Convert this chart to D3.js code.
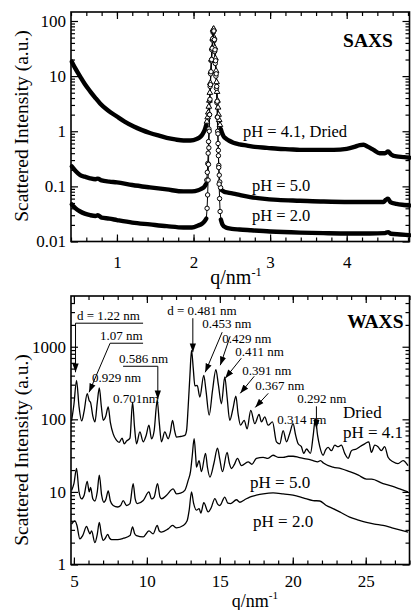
<!DOCTYPE html>
<html>
<head>
<meta charset="utf-8">
<script src="https://cdn.jsdelivr.net/npm/d3@7"></script>
<style>
body { margin: 0; background: #fff; }
text { font-family: "Liberation Serif", "Times New Roman", serif; fill: #000; }
</style>
</head>
<body>
<div class="chart"></div>
<script>
// SAXS / WAXS of dried and wet samples

// SAXS, [q (nm^-1), intensity]
var saxsDried = [
  [0.41, 18.3], [0.46, 13.5], [0.52, 9.8], [0.58, 7.2], [0.65, 5.3], [0.72, 4.0], [0.78, 3.2],
  [0.88, 2.4], [1.0, 1.85], [1.1, 1.5], [1.22, 1.22], [1.32, 1.06], [1.43, 0.93], [1.55, 0.83],
  [1.65, 0.76], [1.76, 0.71], [1.87, 0.68], [1.96, 0.68], [2.04, 0.72], [2.07, 0.76], [2.10, 0.82],
  [2.13, 0.95], [2.15, 1.1], [2.165, 1.3], [2.175, 1.5], [2.185, 1.8], [2.193, 2.2], [2.2, 2.8],
  [2.207, 3.6], [2.213, 5], [2.219, 7.5], [2.226, 12], [2.234, 20], [2.242, 32], [2.25, 48],
  [2.257, 70], [2.263, 72], [2.27, 50], [2.278, 33], [2.286, 21], [2.294, 12.5], [2.301, 7.8],
  [2.307, 5.2], [2.313, 3.6], [2.32, 2.7], [2.327, 2.0], [2.335, 1.6], [2.345, 1.3], [2.355, 1.1],
  [2.37, 0.95], [2.39, 0.82], [2.42, 0.74], [2.46, 0.68], [2.52, 0.62], [2.6, 0.58], [2.7, 0.55],
  [2.8, 0.52], [2.96, 0.50], [3.1, 0.48], [3.25, 0.47], [3.39, 0.46], [3.6, 0.46], [3.83, 0.46],
  [4.0, 0.48], [4.1, 0.52], [4.17, 0.56], [4.22, 0.57], [4.28, 0.52], [4.35, 0.46], [4.43, 0.40],
  [4.5, 0.40], [4.54, 0.43], [4.58, 0.38], [4.65, 0.35], [4.75, 0.34], [4.82, 0.33]
];
var saxsPH5 = [
  [0.41, 0.23], [0.46, 0.19], [0.52, 0.16], [0.58, 0.15], [0.65, 0.14], [0.72, 0.135], [0.75, 0.138],
  [0.8, 0.128], [0.9, 0.122], [1.0, 0.118], [1.2, 0.106], [1.43, 0.096], [1.65, 0.088], [1.87, 0.081],
  [1.98, 0.081], [2.06, 0.085], [2.1, 0.09], [2.14, 0.098], [2.163, 0.11],
  [2.173, 0.13], [2.18, 0.18], [2.186, 0.26], [2.191, 0.4], [2.196, 0.65], [2.201, 1.1], [2.206, 2.0],
  [2.211, 3.6], [2.217, 6.5], [2.224, 11], [2.232, 19], [2.24, 30], [2.248, 45], [2.255, 62],
  [2.261, 64], [2.268, 44], [2.276, 28], [2.284, 17], [2.292, 10], [2.299, 6], [2.305, 3.3],
  [2.31, 1.8], [2.315, 1.0], [2.32, 0.6], [2.325, 0.36], [2.33, 0.24], [2.336, 0.16], [2.343, 0.12],
  [2.353, 0.095], [2.37, 0.085], [2.4, 0.08], [2.45, 0.077], [2.52, 0.074], [2.6, 0.07], [2.74, 0.064],
  [2.9, 0.06], [3.1, 0.057], [3.39, 0.055], [3.7, 0.053], [4.04, 0.052], [4.3, 0.052], [4.48, 0.052],
  [4.51, 0.057], [4.54, 0.06], [4.57, 0.052], [4.65, 0.048], [4.75, 0.046], [4.82, 0.045]
];
var saxsPH2 = [
  [0.41, 0.047], [0.46, 0.04], [0.52, 0.035], [0.58, 0.032], [0.65, 0.03], [0.72, 0.029], [0.75, 0.03],
  [0.8, 0.027], [0.9, 0.026], [1.0, 0.0245], [1.2, 0.022], [1.43, 0.0204], [1.65, 0.019], [1.87, 0.018],
  [1.98, 0.018], [2.06, 0.0195], [2.11, 0.021], [2.14, 0.023], [2.167, 0.026],
  [2.177, 0.04], [2.184, 0.07], [2.19, 0.13], [2.195, 0.25], [2.2, 0.5], [2.205, 1.0], [2.21, 2.0],
  [2.215, 3.8], [2.221, 7], [2.228, 12], [2.236, 20], [2.244, 32], [2.252, 48], [2.259, 65],
  [2.265, 66], [2.272, 46], [2.28, 30], [2.288, 19], [2.296, 11], [2.303, 6.5], [2.309, 3.5],
  [2.314, 1.8], [2.319, 0.9], [2.324, 0.45], [2.329, 0.22], [2.334, 0.11], [2.34, 0.06], [2.347, 0.035],
  [2.357, 0.025], [2.38, 0.02], [2.42, 0.018], [2.5, 0.017], [2.6, 0.0165], [2.74, 0.016], [3.0, 0.0152],
  [3.39, 0.0145], [3.7, 0.0142], [4.04, 0.014], [4.3, 0.014], [4.5, 0.0142], [4.54, 0.0148],
  [4.58, 0.0138], [4.7, 0.0134], [4.82, 0.013]
];

// WAXS, [q (nm^-1), intensity]
var waxsDried = [
  [4.84, 95], [5.0, 160], [5.18, 345], [5.35, 150], [5.53, 95], [5.7, 130], [5.91, 226], [6.05, 180],
  [6.14, 170], [6.3, 110], [6.44, 92], [6.6, 170], [6.74, 271], [6.88, 150], [7.01, 97], [7.18, 110],
  [7.35, 148], [7.5, 90], [7.69, 63], [7.9, 52], [8.1, 48], [8.3, 55], [8.45, 46], [8.6, 50],
  [8.84, 55], [9.02, 173], [9.15, 80], [9.29, 46], [9.52, 67], [9.75, 49], [9.95, 60], [10.14, 83],
  [10.32, 54], [10.5, 70], [10.71, 182], [10.85, 90], [11.0, 49], [11.23, 67], [11.46, 54], [11.6, 65],
  [11.76, 97], [11.9, 70], [12.03, 57], [12.3, 58], [12.6, 60], [12.72, 70], [12.83, 148], [12.95, 400],
  [13.06, 890], [13.18, 500], [13.29, 290], [13.45, 294], [13.63, 203], [13.9, 404], [14.05, 250],
  [14.27, 114], [14.5, 250], [14.73, 484], [14.9, 300], [15.11, 164], [15.34, 384], [15.5, 200],
  [15.68, 97], [15.9, 140], [16.1, 208], [16.25, 120], [16.42, 83], [16.67, 97], [16.87, 74],
  [17.12, 133], [17.4, 87], [17.69, 117], [17.85, 92], [18.08, 108], [18.31, 83], [18.61, 92],
  [18.88, 49], [19.11, 46], [19.34, 70], [19.57, 49], [19.8, 65], [20.02, 87], [20.2, 60], [20.37, 46],
  [20.59, 42], [20.75, 34], [20.94, 39], [21.21, 34], [21.4, 60], [21.55, 102], [21.7, 60], [21.85, 42],
  [22.08, 32], [22.25, 38], [22.42, 41], [22.65, 37], [22.88, 44], [23.1, 42], [23.33, 44], [23.56, 34],
  [23.79, 29], [24.02, 37], [24.36, 39], [24.59, 42], [24.93, 46], [25.21, 49], [25.39, 35], [25.62, 44],
  [25.84, 42], [26.07, 37], [26.3, 42], [26.53, 30], [26.87, 26], [27.21, 24.5], [27.56, 27], [27.9, 23]
];
var waxsPH5 = [
  [4.84, 10.5], [5.0, 13], [5.18, 21], [5.35, 10], [5.53, 8], [5.7, 9], [5.91, 14], [6.05, 10],
  [6.14, 11.5], [6.3, 8], [6.44, 7.5], [6.6, 10], [6.74, 17], [6.9, 9], [7.05, 7.2], [7.2, 8],
  [7.35, 10.3], [7.5, 7.5], [7.69, 6.5], [8.0, 6.2], [8.2, 6.5], [8.38, 7.6], [8.6, 6.5], [8.84, 6.9],
  [9.06, 13], [9.2, 8], [9.34, 6.9], [9.75, 7.6], [10.14, 10], [10.32, 8], [10.5, 8.5], [10.73, 13],
  [10.9, 8.5], [11.0, 8.05], [11.35, 9], [11.8, 11], [12.03, 9.4], [12.3, 9.6], [12.6, 10.5],
  [12.83, 14.4], [12.99, 19], [13.1, 30], [13.24, 54], [13.35, 30], [13.4, 22], [13.58, 27],
  [13.74, 19], [14.02, 34], [14.15, 22], [14.32, 16], [14.6, 25], [14.84, 40], [15.0, 28], [15.18, 19],
  [15.5, 35], [15.65, 25], [15.8, 21], [16.0, 24], [16.21, 29], [16.48, 23], [16.94, 26], [17.2, 24],
  [17.51, 29], [17.97, 30], [18.3, 29], [18.65, 32], [19.0, 30], [19.34, 30], [19.7, 31], [20.02, 31],
  [20.4, 30], [20.71, 29], [21.1, 28], [21.39, 27], [21.7, 26], [21.9, 27], [22.1, 25], [22.76, 22],
  [23.3, 21], [23.9, 19], [24.5, 17], [25.05, 15], [25.4, 15], [26.19, 13], [26.8, 12], [27.33, 11],
  [27.9, 10]
];
var waxsPH2 = [
  [4.84, 3.6], [5.07, 4.0], [5.2, 3.5], [5.41, 2.25], [5.6, 2.5], [5.87, 3.35], [6.0, 2.9], [6.1, 2.65],
  [6.21, 2.9], [6.44, 2.0], [6.6, 2.6], [6.74, 3.8], [6.88, 2.6], [7.01, 2.15], [7.15, 2.3], [7.31, 2.6],
  [7.45, 2.3], [7.58, 2.2], [8.0, 2.2], [8.4, 2.3], [8.84, 2.5], [9.02, 3.3], [9.15, 2.7], [9.29, 2.5],
  [9.75, 2.4], [10.14, 2.9], [10.43, 2.65], [10.71, 3.45], [10.85, 2.9], [11.0, 2.8], [11.46, 3.1],
  [11.76, 3.45], [12.03, 3.2], [12.49, 3.45], [12.76, 4.0], [12.9, 5.6], [13.06, 10], [13.2, 7],
  [13.4, 5.6], [13.58, 5.9], [13.7, 5.1], [13.9, 7.1], [14.2, 5.3], [14.4, 6], [14.66, 8.1], [14.85, 6.8],
  [15.0, 6.5], [15.34, 8.5], [15.55, 7], [15.73, 6.9], [16.14, 7.8], [16.37, 7.2], [16.7, 7.8],
  [17.05, 8.5], [17.5, 9.0], [17.97, 9.4], [18.65, 9.7], [19.34, 9.4], [20.02, 9.0], [20.71, 8.3],
  [21.39, 7.6], [21.85, 7.5], [22.3, 6.5], [22.76, 5.9], [23.3, 5.2], [23.9, 4.5], [24.5, 4.1],
  [25.05, 3.8], [25.6, 3.6], [26.19, 3.45], [26.8, 3.2], [27.33, 3.0], [27.9, 2.8]
];

// tick labels
var saxsXTicks = [1, 2, 3, 4];
var saxsYTicks = [0.01, 0.1, 1, 10, 100];
var waxsXTicks = [5, 10, 15, 20, 25];
var waxsYTicks = [1, 10, 100, 1000];

// curve labels, [text, q, intensity]
var saxsLabels = [["pH = 4.1, Dried", 2.645, 0.79], ["pH = 5.0", 2.763, 0.082], ["pH = 2.0", 2.763, 0.0235]];
var waxsLabels = [["Dried", 23.44, 104], ["pH = 4.1", 23.44, 55.3], ["pH = 5.0", 17.07, 11.3], ["pH = 2.0", 17.28, 3.29]];

// peak assignments: label position and leader line in data coords
var waxsNotes = [
  {label: "d = 1.22 nm", at: [5.21, 2320], path: [[9.74, 2110], [5.11, 2110], [5.11, 445]]},
  {label: "1.07 nm", at: [6.79, 1230], path: [[9.74, 1118], [7.48, 1118], [6.04, 236]]},
  {label: "0.929 nm", at: [6.24, 324]},
  {label: "0.701nm", at: [7.68, 166]},
  {label: "0.586 nm", at: [8.09, 592], path: [[8.37, 538], [10.75, 538], [10.75, 189]]},
  {label: "d = 0.481 nm", at: [11.39, 2720], path: [[13.15, 2470], [13.15, 840]]},
  {label: "0.453 nm", at: [13.79, 1800], path: [[15.16, 1585], [14.0, 445]]},
  {label: "0.429 nm", at: [15.16, 1118], path: [[15.71, 1396], [15.03, 556]]},
  {label: "0.411 nm", at: [16.06, 740], path: [[16.47, 694], [15.37, 368]]},
  {label: "0.391 nm", at: [16.54, 405], path: [[17.36, 392], [16.4, 228]]},
  {label: "0.367 nm", at: [17.43, 251], path: [[18.32, 228], [17.43, 146]]},
  {label: "0.292 nm", at: [20.31, 166], path: [[21.62, 151], [21.62, 75]]},
  {label: "0.314 nm", at: [18.94, 85]}
];


var width = 411, height = 610;

var svg = d3.select(".chart").append("svg")
    .attr("width", width)
    .attr("height", height);

svg.append("defs").append("marker")
    .attr("id", "arrow")
    .attr("viewBox", "0 -4 10 8")
    .attr("refX", 10)
    .attr("refY", 0)
    .attr("markerUnits", "userSpaceOnUse")
    .attr("markerWidth", 9)
    .attr("markerHeight", 7)
    .attr("orient", "auto")
  .append("path")
    .attr("d", "M0,-3.6L10,0L0,3.6Z")
    .attr("fill", "#000");

var saxs = {
    x: d3.scaleLinear().domain([0.4, 4.82]).range([71, 409.5]),
    y: d3.scaleLog().domain([0.01, 145.6]).range([241.5, 12]),
    xMinor: d3.range(0.4, 4.81, 0.2),
    xTicks: saxsXTicks,
    yTicks: saxsYTicks,
    xPad: 14.5
};
var waxs = {
    x: d3.scaleLinear().domain([4.8, 28]).range([71, 409.5]),
    y: d3.scaleLog().domain([1, 5000]).range([564.5, 296]),
    xMinor: d3.range(5, 28.1, 1),
    xTicks: waxsXTicks,
    yTicks: waxsYTicks,
    xPad: 10.5
};

function logMinor(scale) {
    var d = scale.domain(), out = [];
    for (var e = Math.floor(Math.log10(d[0])); e <= Math.ceil(Math.log10(d[1])); e++) {
        for (var k = 2; k <= 9; k++) {
            var v = k * Math.pow(10, e);
            if (v > d[0] && v < d[1]) out.push(v);
        }
    }
    return out;
}

function drawFrame(p) {
    var x = p.x, y = p.y;
    var x0 = x.range()[0], x1 = x.range()[1], y0 = y.range()[0], y1 = y.range()[1];
    var g = svg.append("g");

    function tickAxis(axis, tx, ty, values, size, labels) {
        var a = axis.tickValues(values).tickSize(-size);
        if (!labels) a.tickFormat("");
        var sel = g.append("g").attr("transform", "translate(" + tx + "," + ty + ")").call(a);
        sel.select(".domain").remove();
        sel.selectAll("line").attr("stroke", "#000").attr("stroke-width", 1.2);
        return sel;
    }

    // minor ticks all round
    tickAxis(d3.axisBottom(x), 0, y0, p.xMinor, 4);
    tickAxis(d3.axisTop(x), 0, y1, p.xMinor, 4);
    tickAxis(d3.axisLeft(y), x0, 0, logMinor(y), 4);
    tickAxis(d3.axisRight(y), x1, 0, logMinor(y), 4);

    // major ticks with labels
    var bx = tickAxis(d3.axisBottom(x).tickPadding(p.xPad).tickFormat(d3.format("")), 0, y0, p.xTicks, 7, true);
    tickAxis(d3.axisTop(x), 0, y1, p.xTicks, 7);
    var ly = tickAxis(d3.axisLeft(y).tickPadding(5).tickFormat(function(d) { return String(d); }), x0, 0, p.yTicks, 7, true);
    tickAxis(d3.axisRight(y), x1, 0, p.yTicks, 7);
    bx.selectAll("text").attr("font-size", 17).attr("font-family", "Liberation Serif");
    ly.selectAll("text").attr("font-size", 17).attr("font-family", "Liberation Serif");

    g.append("rect")
        .attr("x", x0).attr("y", y1)
        .attr("width", x1 - x0).attr("height", y0 - y1)
        .attr("fill", "none")
        .attr("stroke", "#000")
        .attr("stroke-width", 1.6);
}

function axisTitles(p, titleX, titleY, size, yCenter) {
    var t = svg.append("text")
        .attr("x", titleX).attr("y", titleY)
        .attr("text-anchor", "middle")
        .attr("font-size", size);
    t.append("tspan").text("q/nm");
    t.append("tspan").attr("dy", -size * 0.42).attr("font-size", size * 0.62).text("-1");

    svg.append("text")
        .attr("transform", "translate(28," + yCenter + ") rotate(-90)")
        .attr("text-anchor", "middle")
        .attr("font-size", 19.5)
        .text("Scattered Intensity (a.u.)");
}

// ---------- SAXS ----------
drawFrame(saxs);

var saxsLine = d3.line()
    .x(function(d) { return saxs.x(d[0]); })
    .y(function(d) { return saxs.y(d[1]); });
var saxsBand = d3.line()
    .curve(d3.curveMonotoneX)
    .x(function(d) { return saxs.x(d[0]); })
    .y(function(d) { return saxs.y(d[1]); });

var saxsSeries = [
    {data: saxsDried, mark: "triangle"},
    {data: saxsPH5, mark: "circle"},
    {data: saxsPH2, mark: "circle"}
];

var plotSaxs = svg.append("g");

saxsSeries.forEach(function(s) {
    plotSaxs.append("path")
        .attr("d", saxsLine(s.data))
        .attr("fill", "none")
        .attr("stroke", "#000")
        .attr("stroke-width", 1);
});

saxsSeries.forEach(function(s) {
    var left  = s.data.filter(function(d) { return d[0] <= 2.168; });
    var right = s.data.filter(function(d) { return d[0] >= 2.355; });
    [left, right].forEach(function(part) {
        plotSaxs.append("path")
            .attr("d", saxsBand(part))
            .attr("fill", "none")
            .attr("stroke", "#000")
            .attr("stroke-width", 4.4)
            .attr("stroke-linejoin", "round")
            .attr("stroke-linecap", "round");
    });
});

saxsSeries.forEach(function(s) {
    var pk = s.data.filter(function(d) { return d[0] > 2.168 && d[0] < 2.355; });
    if (s.mark === "circle") {
        plotSaxs.selectAll(null)
            .data(pk)
            .enter()
            .append("circle")
            .attr("cx", function(d) { return saxs.x(d[0]); })
            .attr("cy", function(d) { return saxs.y(d[1]); })
            .attr("r", 2.2)
            .attr("fill", "#fff")
            .attr("stroke", "#000")
            .attr("stroke-width", 1);
    } else {
        plotSaxs.selectAll(null)
            .data(pk)
            .enter()
            .append("path")
            .attr("transform", function(d) { return "translate(" + saxs.x(d[0]) + "," + saxs.y(d[1]) + ")"; })
            .attr("d", d3.symbol().type(d3.symbolTriangle).size(14))
            .attr("fill", "#fff")
            .attr("stroke", "#000")
            .attr("stroke-width", 1);
    }
});

saxsLabels.forEach(function(l) {
    svg.append("text")
        .attr("x", saxs.x(l[1])).attr("y", saxs.y(l[2]))
        .attr("font-size", 16.5)
        .text(l[0]);
});

svg.append("text")
    .attr("x", saxs.x(4.604)).attr("y", saxs.y(33.7))
    .attr("text-anchor", "end")
    .attr("font-size", 19.5)
    .attr("font-weight", "bold")
    .text("SAXS");

axisTitles(saxs, 236, 284, 20, 126);

// ---------- WAXS ----------
drawFrame(waxs);

var waxsLine = d3.line()
    .x(function(d) { return waxs.x(d[0]); })
    .y(function(d) { return waxs.y(d[1]); });
var waxsCurve = d3.line()
    .curve(d3.curveMonotoneX)
    .x(function(d) { return waxs.x(d[0]); })
    .y(function(d) { return waxs.y(d[1]); });

[waxsDried, waxsPH5, waxsPH2].forEach(function(data) {
    svg.append("path")
        .attr("d", waxsCurve(data))
        .attr("fill", "none")
        .attr("stroke", "#000")
        .attr("stroke-width", 1.3)
        .attr("stroke-linejoin", "round");
});

waxsLabels.forEach(function(l) {
    svg.append("text")
        .attr("x", waxs.x(l[1])).attr("y", waxs.y(l[2]))
        .attr("font-size", 17)
        .text(l[0]);
});

svg.append("text")
    .attr("x", waxs.x(27.59)).attr("y", waxs.y(1810))
    .attr("text-anchor", "end")
    .attr("font-size", 19.5)
    .attr("font-weight", "bold")
    .text("WAXS");

var notes = svg.append("g");
waxsNotes.forEach(function(n) {
    notes.append("text")
        .attr("x", waxs.x(n.at[0])).attr("y", waxs.y(n.at[1]))
        .attr("font-size", 13)
        .text(n.label);
    if (n.path) {
        notes.append("path")
            .attr("d", waxsLine(n.path))
            .attr("fill", "none")
            .attr("stroke", "#000")
            .attr("stroke-width", 1)
            .attr("marker-end", "url(#arrow)");
    }
});

axisTitles(waxs, 255, 607, 18, 450);

</script>
</body>
</html>
